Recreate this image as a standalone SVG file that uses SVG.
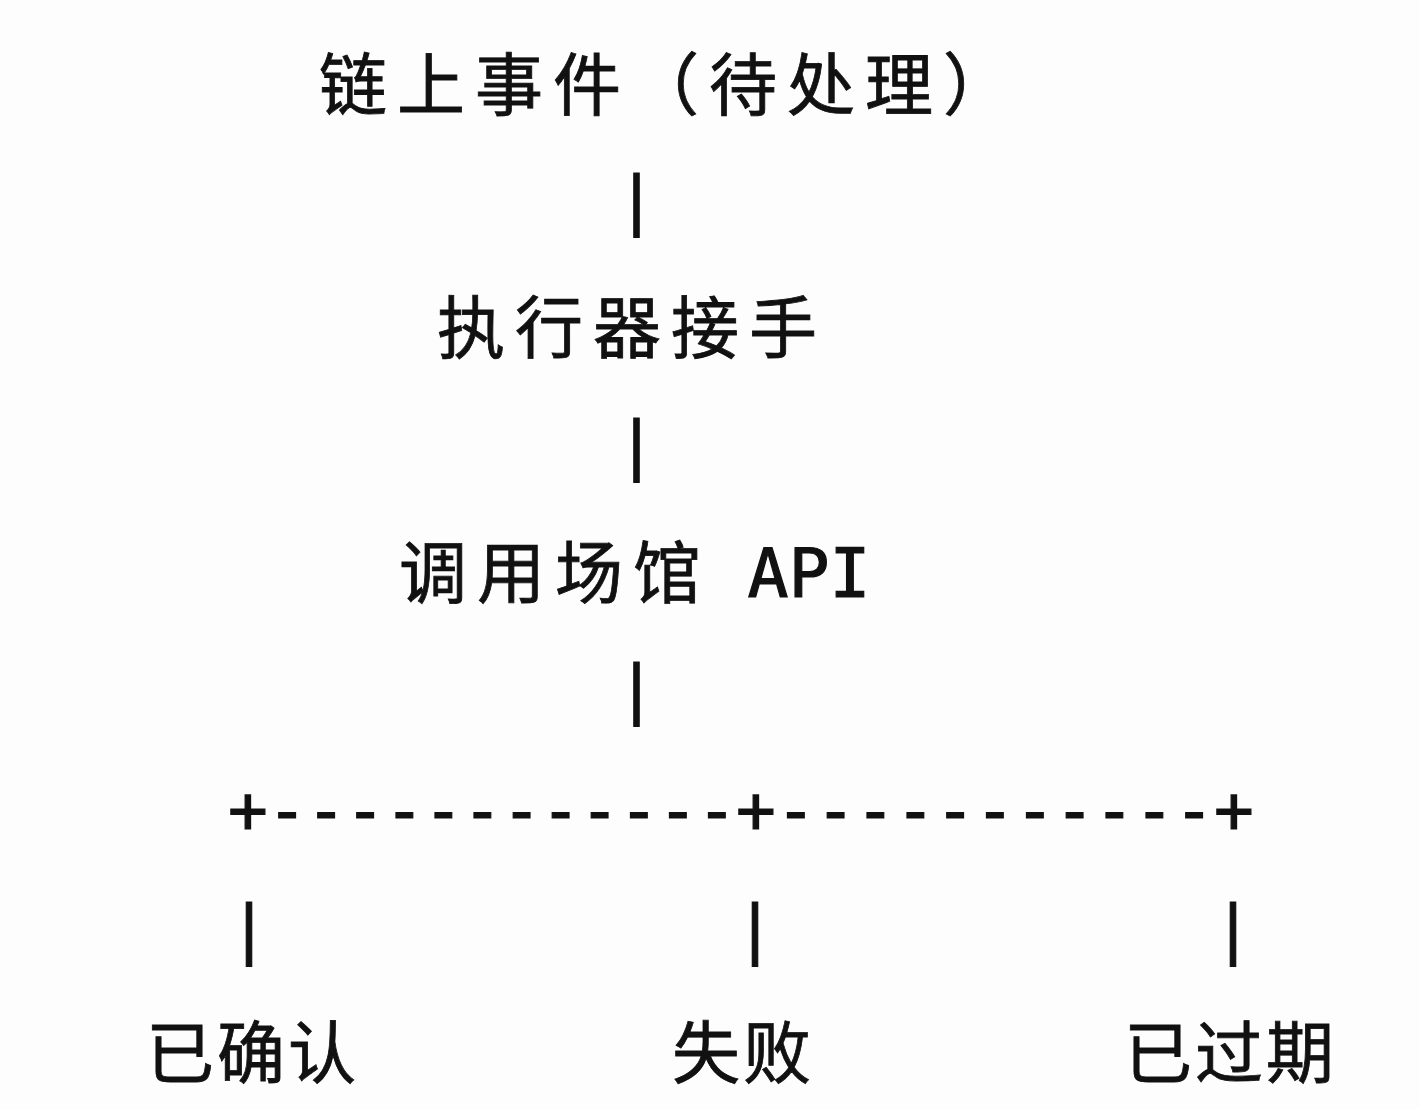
<svg xmlns="http://www.w3.org/2000/svg" width="1419" height="1109" viewBox="0 0 1419 1109">
<style>
.cjk{font-family:"Noto Sans CJK SC","Noto Sans",sans-serif;font-size:68px;fill:#111;stroke:#111;stroke-width:0.8px;}
.mono{font-family:"DejaVu Sans Mono","Liberation Mono",monospace;fill:#111;stroke:#111;stroke-width:1.2px;}
.pipe{font-size:64px;text-anchor:middle;}
</style>
<rect width="1419" height="1109" fill="#fdfdfd"/>
<g id="node-event"><text class="cjk" x="319" y="110" letter-spacing="10">链上事件（待处理）</text></g>
<g id="node-executor"><text class="cjk" x="437" y="353" letter-spacing="10">执行器接手</text></g>
<g id="node-api"><text class="cjk" x="399" y="598" letter-spacing="10">调用场馆</text><text class="mono" x="747.5" y="597" font-size="68">API</text></g>
<g id="node-confirmed"><text class="cjk" x="146" y="1078" letter-spacing="3">已确认</text></g>
<g id="node-failed"><text class="cjk" x="672" y="1078" letter-spacing="3">失败</text></g>
<g id="node-expired"><text class="cjk" x="1124" y="1078" letter-spacing="3">已过期</text></g>
<g id="connectors" class="mono">
<text class="pipe" x="636.5" y="222">|</text>
<text class="pipe" x="636.5" y="467">|</text>
<text class="pipe" x="636.5" y="711">|</text>
<text font-size="66" y="833" x="228.1 267.2 306.3 345.3 384.4 423.5 462.6 501.7 540.7 579.8 618.9 658.0 697.1 736.1 775.9 815.8 855.6 895.4 935.3 975.1 1014.9 1054.7 1094.6 1134.4 1174.2 1214.1">+------------+-----------+</text>
<text class="pipe" x="249" y="951">|</text>
<text class="pipe" x="755" y="951">|</text>
<text class="pipe" x="1233" y="951">|</text>
</g>
</svg>
